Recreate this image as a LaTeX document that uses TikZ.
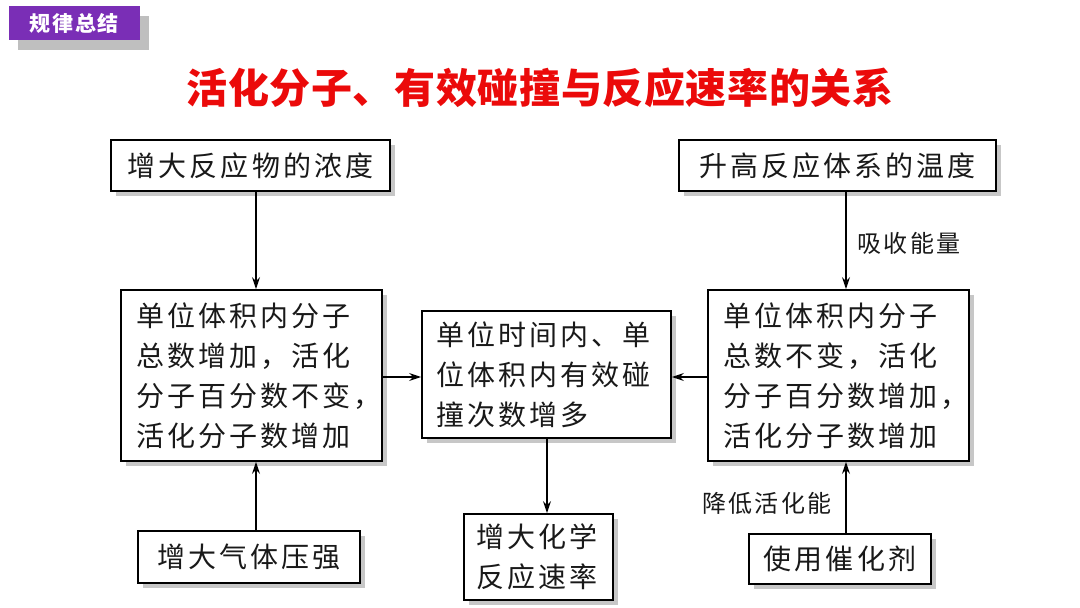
\documentclass[tikz,border=0pt]{standalone}
\usepackage{fontspec}
\newfontfamily\cjk[LetterSpace=11]{Noto Sans CJK SC}
\newfontfamily\cjklab[LetterSpace=9]{Noto Sans CJK SC}
\newfontfamily\cjktitle[LetterSpace=1.5]{Noto Sans CJK SC}
\newfontfamily\cjkhead[LetterSpace=8]{Noto Sans CJK SC}
\usetikzlibrary{arrows.meta,shadows}
\definecolor{txt}{RGB}{25,25,25}
\definecolor{hdr}{RGB}{122,46,182}
\definecolor{ttl}{RGB}{235,10,10}
\begin{document}
\begin{tikzpicture}[x=1pt,y=-1pt,
  box/.style={draw=black, line width=1.8pt, fill=white, inner sep=0pt, text=txt,
    font=\cjk\fontsize{28}{40}\selectfont,
    drop shadow={shadow xshift=5pt, shadow yshift=-5pt, opacity=0.22, fill=black}},
  arr/.style={-{Stealth[length=12pt,width=8pt]}, line width=1.5pt, draw=black},
  lab/.style={font=\cjklab\fontsize{24}{28}\selectfont, text=txt, inner sep=0pt}]
\useasboundingbox[fill=white] (0,0) rectangle (1080,608);

% header tag
\node[fill=hdr, minimum width=131pt, minimum height=34pt, inner sep=0pt, text=white,
  font=\cjkhead\bfseries\fontsize{21}{24}\selectfont,
  drop shadow={shadow xshift=9pt, shadow yshift=-10pt, opacity=0.25, fill=black}] (hd) at (74.5,23) {规律总结};

% title
\node[text=ttl, inner sep=0pt, font=\cjktitle\bfseries\fontsize{41}{44}\selectfont] (tt) at (540,88) {活化分子、有效碰撞与反应速率的关系};

% boxes
\node[box, minimum width=279pt, minimum height=51pt] (A) at (250.5,165.5) {增大反应物的浓度};
\node[box, minimum width=317pt, minimum height=51pt] (D) at (837.5,165.5) {升高反应体系的温度};
\node[box, minimum width=261pt, minimum height=171pt, text width=231pt, align=left] (B) at (251.5,375.5)
  {单位体积内分子\\总数增加，活化\\分子百分数不变，\\活化分子数增加};
\node[box, minimum width=249pt, minimum height=127pt, text width=220pt, align=left] (C) at (546.5,374.5)
  {单位时间内、单\\位体积内有效碰\\撞次数增多};
\node[box, minimum width=261pt, minimum height=171pt, text width=231pt, align=left] (E) at (838.5,375.5)
  {单位体积内分子\\总数不变，活化\\分子百分数增加，\\活化分子数增加};
\node[box, minimum width=222pt, minimum height=52pt] (F) at (249,557) {增大气体压强};
\node[box, minimum width=149pt, minimum height=86pt, text width=124pt, align=left] (G) at (538.5,557)
  {增大化学\\反应速率};
\node[box, minimum width=182pt, minimum height=50pt] (H) at (840,559) {使用催化剂};

% helper coordinates
\coordinate (xl) at (256,0);
\coordinate (xc) at (547,0);
\coordinate (xr) at (846,0);
\coordinate (ym) at (0,377);

% connectors
\draw[arr] (A.south -| xl) -- (B.north -| xl);
\draw[arr] (F.north -| xl) -- (B.south -| xl);
\draw[arr] (B.east |- ym) -- (C.west |- ym);
\draw[arr] (E.west |- ym) -- (C.east |- ym);
\draw[arr] (C.south -| xc) -- (G.north -| xc);
\draw[arr] (D.south -| xr) -- (E.north -| xr);
\draw[arr] (H.north -| xr) -- (E.south -| xr);

% labels
\node[lab] (l1) at (909,243) {吸收能量};
\node[lab] (l2) at (767,503) {降低活化能};
\end{tikzpicture}
\end{document}
